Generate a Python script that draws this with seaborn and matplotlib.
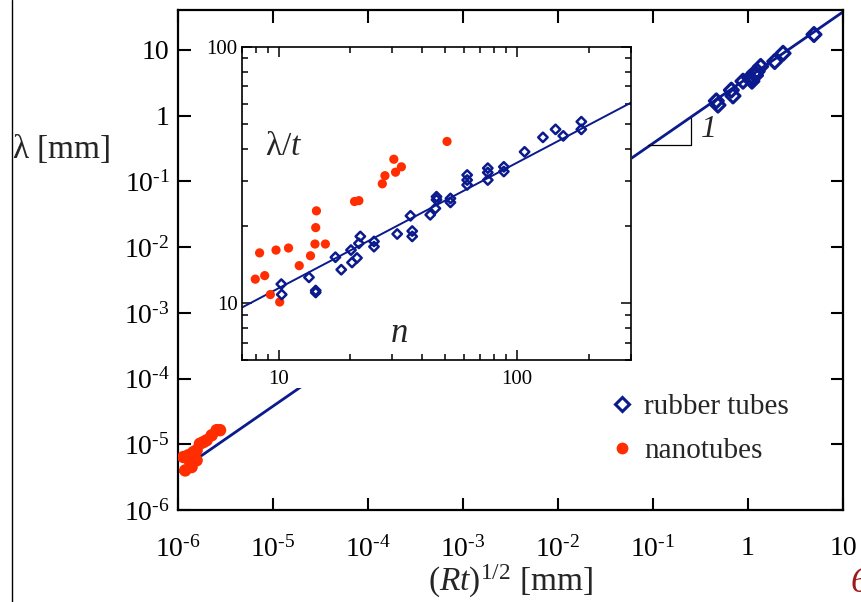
import numpy as np
import pandas as pd
import matplotlib
matplotlib.use("Agg")
import matplotlib.pyplot as plt
import seaborn as sns
from matplotlib.lines import Line2D
from matplotlib.patches import Rectangle
from matplotlib.ticker import FixedLocator, FuncFormatter, LogLocator, NullFormatter

# ---------------- data ----------------
# main panel: rubber tubes
rubber_x = [0.464, 0.483, 0.668, 0.695, 0.886, 1.04, 1.10, 1.17, 1.25, 1.36, 1.91, 2.34, 4.95, 1.08, 1.20]
rubber_y = [1.68, 1.45, 2.45, 2.0, 3.35, 3.76, 3.35, 4.47, 4.73, 5.62, 6.68, 8.9, 17.2, 3.6, 4.1]
# main panel: nanotubes
nano_x = [1.19e-6, 1.14e-6, 1.28e-6, 1.39e-6, 1.45e-6, 1.57e-6, 1.70e-6, 1.85e-6, 2.0e-6,
          2.26e-6, 2.55e-6, 2.77e-6, 1.34e-6, 1.57e-6]
nano_y = [4.0e-6, 6.4e-6, 6.8e-6, 4.5e-6, 7.6e-6, 8.1e-6, 1.02e-5, 1.08e-5, 1.15e-5,
          1.37e-5, 1.64e-5, 1.64e-5, 5.4e-6, 5.7e-6]
fit_x = [1e-6, 10]
fit_y = [3.8e-6, 38]
slope_x = [0.0885, 0.251, 0.251]
slope_y = [0.363, 0.363, 0.93]

# inset: lambda/t vs n
in_nano_n = [7.98, 8.32, 8.74, 9.23, 9.75, 10.1, 11.0, 12.2, 13.6, 14.2, 14.3, 14.4, 15.7,
             20.8, 21.7, 27.2, 27.9, 30.4, 30.9, 32.7, 50.8]
in_nano_y = [12.4, 15.7, 12.8, 10.8, 16.1, 10.1, 16.4, 14.0, 15.3, 17.0, 19.7, 22.9, 17.0,
             24.9, 25.1, 29.2, 31.4, 36.4, 32.4, 34.0, 42.7]
in_rub_n = [10.26, 10.3, 13.4, 14.3, 14.3, 17.3, 18.3, 20.1, 20.3, 21.3, 21.7, 22.0, 25.1, 25.1,
            31.4, 35.7, 36.3, 36.3, 43.2, 45.4, 45.9, 45.9, 52.5, 52.5, 61.7, 61.7, 61.7,
            75.3, 75.3, 75.3, 87.9, 87.9, 107.4, 128.2, 144.8, 156, 185.7, 185.7]
in_rub_y = [11.86, 10.8, 12.6, 11.2, 11.0, 15.1, 13.5, 16.1, 14.4, 15.0, 17.1, 18.2, 17.4, 16.6,
            18.6, 21.9, 19.1, 18.2, 22.1, 23.4, 26.0, 25.3, 25.6, 24.7, 31.6, 30.2, 28.9,
            33.6, 32.3, 30.2, 34.0, 32.6, 38.9, 44.3, 47.6, 44.9, 51.0, 47.6]
in_fit_n = [7, 300]
in_fit_y = [9.6, 60.5]

main_xticks = [1e-6, 1e-5, 1e-4, 1e-3, 1e-2, 1e-1, 1, 10]
main_yticks = [1e-6, 1e-5, 1e-4, 1e-3, 1e-2, 1e-1, 1, 10]
legend_labels = ["rubber tubes", "nanotubes"]

NAVY = "#0B1A8C"
RED = "#FF2D00"

# ---------------- style ----------------
sns.set_style("ticks")
plt.rcParams["font.family"] = ["Liberation Serif", "DejaVu Serif"]
plt.rcParams["mathtext.fontset"] = "custom"
plt.rcParams["mathtext.rm"] = "Liberation Serif"
plt.rcParams["mathtext.it"] = "Liberation Serif:italic"
plt.rcParams["mathtext.bf"] = "Liberation Serif:bold"

W, H = 861, 602
fig = plt.figure(figsize=(W / 100, H / 100), dpi=100)
fig.patch.set_facecolor("white")

def fx(px):
    return px / W

def fy(py):
    return 1 - py / H

ax = fig.add_axes([fx(178), fy(510), fx(843 - 178), (510 - 10) / H])
ax.set_xscale("log")
ax.set_yscale("log")

sns.lineplot(x=fit_x, y=fit_y, ax=ax, color=NAVY, lw=2.0, zorder=2)
ax.plot(slope_x, slope_y, color="black", lw=0.9, zorder=2)
sns.scatterplot(x=rubber_x, y=rubber_y, ax=ax, marker="D", s=50, facecolor="none",
                edgecolor=NAVY, linewidth=2.3, zorder=4)
sns.scatterplot(x=nano_x, y=nano_y, ax=ax, marker="o", s=80, color=RED,
                edgecolor="none", linewidth=0, zorder=4)

ax.set_xlim(1e-6, 10)
ax.set_ylim(1e-6, 40.6)

def main_fmt(v, pos):
    e = int(round(np.log10(v)))
    if e == 0:
        return "1"
    if e == 1:
        return "10"
    return r"$\mathregular{10^{\text{-}%d}}$" % (-e)

ax.xaxis.set_major_locator(FixedLocator(main_xticks))
ax.yaxis.set_major_locator(FixedLocator(main_yticks))
ax.xaxis.set_minor_locator(FixedLocator([]))
ax.yaxis.set_minor_locator(FixedLocator([]))
ax.xaxis.set_major_formatter(FuncFormatter(main_fmt))
ax.yaxis.set_major_formatter(FuncFormatter(main_fmt))
ax.tick_params(which="major", direction="in", length=9, width=1.5, top=True, right=True,
               labelsize=20, colors="black")
ax.tick_params(axis="x", pad=19)
ax.tick_params(axis="y", pad=6)
for sp in ax.spines.values():
    sp.set_visible(True)
    sp.set_linewidth(1.6)
    sp.set_color("black")

ax.set_xlabel(r"$\mathit{(Rt)}^{\mathregular{1/2}}$ [mm]", fontsize=24, labelpad=0)
fig.text(fx(12), fy(148), r"$\mathregular{\lambda}$ [mm]", fontsize=24, ha="left", va="center")
ax.text(0.318, 0.62, "1", fontsize=23, style="italic", ha="left", va="center")

# white box hiding the line behind the inset
ax.add_patch(Rectangle((fx(195), fy(388)), fx(632 - 195), (388 - 28) / H,
                       transform=fig.transFigure, facecolor="white", edgecolor="none",
                       zorder=3, clip_on=False))

# legend
handles = [Line2D([], [], marker="D", ls="none", markersize=7.5, mfc="none", mec=NAVY, mew=2.2),
           Line2D([], [], marker="o", ls="none", markersize=8.5, mfc=RED, mec="none")]
leg = ax.legend(handles, legend_labels, loc="upper left",
                bbox_to_anchor=(fx(612), fy(394)), bbox_transform=fig.transFigure,
                frameon=False, fontsize=21, handlelength=0.7, handletextpad=0.4,
                labelspacing=0.6, borderpad=0, borderaxespad=0)

# ---------------- inset ----------------
ax2 = fig.add_axes([fx(241.7), fy(360), fx(631 - 241.7), (360 - 46.7) / H])
ax2.set_xscale("log")
ax2.set_yscale("log")
ax2.set_zorder(5)
sns.lineplot(x=in_fit_n, y=in_fit_y, ax=ax2, color=NAVY, lw=1.4, zorder=2)
sns.scatterplot(x=in_nano_n, y=in_nano_y, ax=ax2, marker="o", s=44, color=RED,
                edgecolor="none", linewidth=0, zorder=3)
sns.scatterplot(x=in_rub_n, y=in_rub_y, ax=ax2, marker="D", s=23, facecolor="none",
                edgecolor=NAVY, linewidth=1.8, zorder=4)
ax2.set_xlim(7, 300)
ax2.set_ylim(6, 100)
ax2.xaxis.set_major_locator(FixedLocator([10, 100]))
ax2.yaxis.set_major_locator(FixedLocator([10, 100]))
ax2.xaxis.set_minor_locator(LogLocator(base=10, subs=np.arange(2, 10)))
ax2.yaxis.set_minor_locator(LogLocator(base=10, subs=np.arange(2, 10)))
ax2.xaxis.set_major_formatter(FuncFormatter(lambda v, p: "%d" % round(v)))
ax2.yaxis.set_major_formatter(FuncFormatter(lambda v, p: "%d" % round(v)))
ax2.xaxis.set_minor_formatter(NullFormatter())
ax2.yaxis.set_minor_formatter(NullFormatter())
ax2.tick_params(which="both", direction="in", top=True, right=True, width=1.1,
                colors="black", labelsize=15)
ax2.tick_params(which="major", length=7, pad=7)
ax2.tick_params(which="minor", length=4)
ax2.tick_params(axis="y", which="major", pad=3)
for sp in ax2.spines.values():
    sp.set_visible(True)
    sp.set_linewidth(1.2)
    sp.set_color("black")
ax2.set_xlabel("")
ax2.set_ylabel("")
ax2.text(0.06, 0.68, r"$\mathregular{\lambda}/\mathit{t}$", transform=ax2.transAxes,
         fontsize=24, ha="left", va="center")
ax2.text(0.405, 0.085, "n", style="italic", transform=ax2.transAxes,
         fontsize=25, ha="center", va="center")

# page decorations
fig.add_artist(Line2D([fx(11.5), fx(11.5)], [0, 1], transform=fig.transFigure,
                      color="black", lw=1.0))
fig.text(fx(851), fy(584), "6", fontsize=26, color="#9E1A1A", style="italic",
         ha="left", va="center")

fig.savefig("out.png", dpi=100)
